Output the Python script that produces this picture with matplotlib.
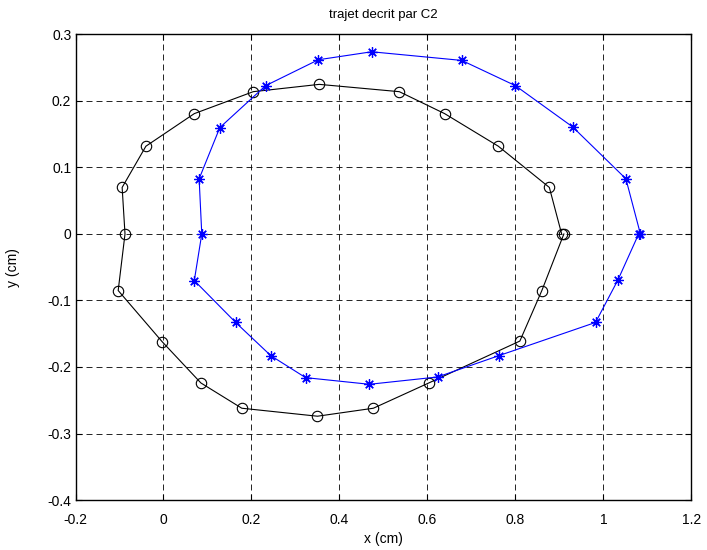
import matplotlib
matplotlib.use("Agg")
import matplotlib.pyplot as plt

plt.rcParams['font.family'] = ['Liberation Sans', 'DejaVu Sans']

# Black trajectory (circles)
x_black = [0.905, 0.877, 0.761, 0.639, 0.536, 0.354, 0.204, 0.070, -0.040, -0.094,
           -0.0875, -0.103, -0.003, 0.085, 0.178, 0.350, 0.477, 0.603, 0.810, 0.860, 0.910]
y_black = [0.0, 0.070, 0.132, 0.181, 0.214, 0.225, 0.214, 0.181, 0.132, 0.070,
           0.0, -0.085, -0.162, -0.224, -0.262, -0.274, -0.262, -0.224, -0.161, -0.085, 0.0]

# Blue trajectory (stars)
x_blue = [1.084, 1.051, 0.930, 0.800, 0.678, 0.473, 0.352, 0.232, 0.128, 0.081,
          0.087, 0.070, 0.164, 0.244, 0.323, 0.468, 0.623, 0.762, 0.982, 1.033, 1.080]
y_blue = [0.0, 0.083, 0.161, 0.223, 0.261, 0.274, 0.262, 0.223, 0.160, 0.083,
          0.0, -0.070, -0.133, -0.183, -0.216, -0.226, -0.215, -0.183, -0.133, -0.069, 0.0]

xticks = [-0.2, 0, 0.2, 0.4, 0.6, 0.8, 1, 1.2]
yticks = [-0.4, -0.3, -0.2, -0.1, 0, 0.1, 0.2, 0.3]
xticklabels = ['-0.2', '0', '0.2', '0.4', '0.6', '0.8', '1', '1.2']
yticklabels = ['-0.4', '-0.3', '-0.2', '-0.1', '0', '0.1', '0.2', '0.3']

fig = plt.figure(figsize=(7.07, 5.5), dpi=100)
ax = fig.add_axes([0.1068, 0.0909, 0.8712, 0.8464])

ax.plot(x_black, y_black, color='black', linewidth=0.8, marker='o', markersize=7.5,
        markerfacecolor='none', markeredgecolor='black', markeredgewidth=0.8)
ax.plot(x_blue, y_blue, color='blue', linewidth=0.8, marker=(8, 2, 0), markersize=7.5,
        markerfacecolor='blue', markeredgecolor='blue', markeredgewidth=0.9)

ax.set_xlim(-0.2, 1.2)
ax.set_ylim(-0.4, 0.3)
ax.set_xticks(xticks)
ax.set_xticklabels(xticklabels)
ax.set_yticks(yticks)
ax.set_yticklabels(yticklabels)
ax.tick_params(direction='in', length=4, width=0.8, labelsize=10, top=True, right=True,
               labeltop=False, labelright=False)
ax.tick_params(axis='x', pad=9)
ax.tick_params(axis='y', pad=3)
ax.grid(True, color='black', linestyle=(0, (7.2, 4.8)), linewidth=0.6)
for s in ax.spines.values():
    s.set_linewidth(1.0)

ax.set_xlabel('x (cm)', fontsize=10, labelpad=4)
ax.set_ylabel('y (cm)', fontsize=10, labelpad=20)
ax.set_title('trajet decrit par C2', fontsize=9.5, pad=12)

fig.savefig('out.png', dpi=100)
